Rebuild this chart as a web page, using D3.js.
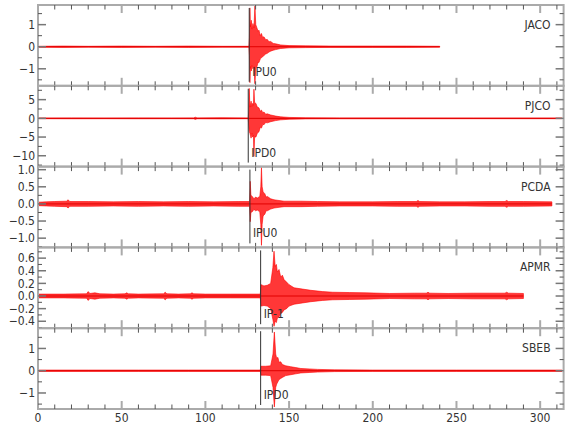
<!DOCTYPE html>
<html><head><meta charset="utf-8">
<script src="https://cdn.jsdelivr.net/npm/d3@7"></script>
<style>
html,body{margin:0;padding:0;background:#fff;}
text{font-family:"Liberation Sans Narrow","DejaVu Sans Condensed","Arial Narrow",sans-serif;}
</style></head>
<body><svg id="c" width="580" height="440"></svg>
<script>
// ---- data ----
const stationNames = ["JACO", "PJCO", "PCDA", "APMR", "SBEB"];
const pickTimes = [126.2, 125.6, 126.6, 133.0, 133.0];
const pickLabels = ["IPU0", "IPD0", "IPU0", "IP-1", "IPD0"];
const xTicksMajor = [0, 50, 100, 150, 200, 250, 300];
const yDomains = [[-1.77, 1.89], [-12.9, 8.7], [-1.27, 1.09], [-0.51, 0.77], [-1.72, 1.91]];
const yLabelTicks = [[-1, 0, 1], [-10, -5, 0, 5], [-1.0, -0.5, 0.0, 0.5, 1.0], [-0.4, -0.2, 0.0, 0.2, 0.4, 0.6], [-1, 0, 1]];
const yMinorStep = [0.5, 2.5, 0.25, 0.1, 0.5];

// envelopes (time s, upper, lower)
const jacoT  = [0, 15, 30, 50, 70, 90, 110, 126.0, 126.3, 126.6, 126.9, 127.4, 127.9, 128.4, 129.0, 129.6, 130.1, 130.8, 131.5, 132, 132.8, 133.5, 134.2, 135, 136, 137, 138, 139, 140.5, 142, 145, 150, 160, 175, 200, 220, 240];
const jacoHi = [0.02, 0.03, 0.02, 0.03, 0.02, 0.03, 0.02, 0.02, 0.4, 1.76, 0.9, 1.2, 0.8, 1.05, 0.85, 1.85, 1.0, 0.85, 0.7, 0.75, 0.5, 0.6, 0.42, 0.45, 0.32, 0.33, 0.22, 0.24, 0.15, 0.13, 0.08, 0.05, 0.04, 0.03, 0.03, 0.03, 0.02];
const jacoLo = [-0.02, -0.03, -0.02, -0.03, -0.02, -0.03, -0.02, -0.02, -0.4, -1.63, -0.9, -1.1, -0.85, -1.0, -0.9, -1.68, -1.0, -0.9, -0.7, -0.72, -0.55, -0.5, -0.45, -0.4, -0.33, -0.3, -0.24, -0.2, -0.16, -0.13, -0.08, -0.05, -0.04, -0.03, -0.03, -0.03, -0.02];

const pjcoT  = [0, 20, 40, 60, 80, 93, 94, 95, 110, 125.6, 125.9, 126.2, 126.6, 127.3, 127.8, 128.2, 128.7, 129.0, 129.4, 130.2, 131, 132, 132.8, 133.5, 134.3, 135, 136, 137, 139, 142, 145, 150, 160, 180, 220, 260, 313];
const pjcoHi = [0.1, 0.12, 0.1, 0.12, 0.1, 0.12, 0.3, 0.12, 0.15, 0.1, 2.0, 8.0, 3.0, 4.6, 3.2, 4.0, 3.5, 7.8, 4.2, 4.0, 3.0, 2.8, 1.9, 2.2, 1.5, 1.7, 1.1, 1.2, 0.9, 0.6, 0.4, 0.25, 0.15, 0.12, 0.12, 0.1, 0.1];
const pjcoLo = [-0.1, -0.12, -0.1, -0.12, -0.1, -0.12, -0.3, -0.12, -0.15, -0.1, -2.0, -3.5, -4.0, -5.3, -4.0, -5.0, -4.5, -10.2, -5.0, -5.0, -4.0, -3.6, -2.4, -2.6, -1.6, -1.7, -1.1, -1.2, -0.9, -0.6, -0.4, -0.25, -0.15, -0.12, -0.12, -0.1, -0.1];

const pcdaT  = [0, 5, 10, 17, 18, 19, 30, 45, 60, 75, 90, 105, 120, 126.4, 126.8, 127.2, 128, 129, 130, 131, 132.5, 133.1, 133.5, 133.9, 134.5, 135.5, 136.3, 137, 139, 141, 144, 147, 157, 167, 180, 200, 215, 226, 227, 228, 240, 255, 270, 279, 280, 281, 290, 307];
const pcdaHi = [0.05, 0.06, 0.07, 0.08, 0.12, 0.07, 0.07, 0.06, 0.07, 0.06, 0.07, 0.06, 0.07, 0.07, 0.66, 0.25, 0.22, 0.15, 0.2, 0.17, 0.22, 0.5, 1.06, 0.5, 0.35, 0.3, 0.2, 0.22, 0.15, 0.12, 0.1, 0.08, 0.08, 0.07, 0.06, 0.06, 0.07, 0.07, 0.1, 0.07, 0.06, 0.06, 0.07, 0.07, 0.1, 0.07, 0.07, 0.06];
const pcdaLo = [-0.05, -0.06, -0.07, -0.08, -0.12, -0.07, -0.07, -0.06, -0.07, -0.06, -0.07, -0.06, -0.07, -0.07, -0.52, -0.25, -0.23, -0.16, -0.2, -0.18, -0.23, -0.6, -1.21, -0.6, -0.35, -0.3, -0.2, -0.2, -0.15, -0.12, -0.1, -0.08, -0.08, -0.07, -0.06, -0.06, -0.07, -0.07, -0.1, -0.07, -0.06, -0.06, -0.07, -0.07, -0.1, -0.07, -0.07, -0.06];

const apmrT  = [0, 15, 29, 30, 31, 34, 37, 45, 52, 53, 54, 60, 75, 76, 77, 84, 91, 92, 93, 100, 115, 132.8, 133.2, 135, 137, 139, 140.3, 141.0, 141.7, 142.4, 143, 144, 145, 146, 147, 148.5, 150, 153, 158, 163, 170, 176, 186, 196, 210, 225, 232, 233, 234, 245, 260, 270, 279, 280, 281, 290];
const apmrHi = [0.03, 0.03, 0.035, 0.07, 0.04, 0.05, 0.035, 0.03, 0.035, 0.05, 0.035, 0.03, 0.035, 0.06, 0.035, 0.03, 0.035, 0.05, 0.035, 0.03, 0.03, 0.03, 0.18, 0.16, 0.17, 0.2, 0.45, 0.71, 0.47, 0.5, 0.38, 0.42, 0.3, 0.33, 0.26, 0.22, 0.18, 0.13, 0.11, 0.09, 0.07, 0.06, 0.055, 0.05, 0.04, 0.045, 0.045, 0.06, 0.045, 0.04, 0.045, 0.045, 0.045, 0.06, 0.045, 0.04];
const apmrLo = [-0.03, -0.03, -0.035, -0.07, -0.04, -0.05, -0.035, -0.03, -0.035, -0.05, -0.035, -0.03, -0.035, -0.06, -0.035, -0.03, -0.035, -0.05, -0.035, -0.03, -0.03, -0.03, -0.16, -0.15, -0.16, -0.2, -0.37, -0.48, -0.4, -0.42, -0.35, -0.33, -0.28, -0.26, -0.22, -0.2, -0.16, -0.13, -0.11, -0.09, -0.07, -0.06, -0.055, -0.05, -0.04, -0.045, -0.045, -0.06, -0.045, -0.04, -0.045, -0.045, -0.045, -0.06, -0.045, -0.04];

const sbebT  = [0, 30, 60, 90, 120, 132.8, 133.2, 136, 139, 140.4, 141.2, 142.0, 142.6, 143.3, 144, 145, 146, 148, 151, 154, 157, 162, 167, 177, 200, 250, 313];
const sbebHi = [0.03, 0.03, 0.03, 0.03, 0.03, 0.03, 0.2, 0.2, 0.22, 0.75, 1.74, 0.75, 0.55, 0.6, 0.38, 0.4, 0.28, 0.22, 0.18, 0.14, 0.1, 0.08, 0.06, 0.04, 0.03, 0.03, 0.03];
const sbebLo = [-0.03, -0.03, -0.03, -0.03, -0.03, -0.03, -0.2, -0.2, -0.22, -0.75, -1.63, -0.75, -0.6, -0.5, -0.4, -0.35, -0.3, -0.22, -0.18, -0.14, -0.1, -0.08, -0.06, -0.04, -0.03, -0.03, -0.03];

const traces = [
  [jacoT, jacoHi, jacoLo],
  [pjcoT, pjcoHi, pjcoLo],
  [pcdaT, pcdaHi, pcdaLo],
  [apmrT, apmrHi, apmrLo],
  [sbebT, sbebHi, sbebLo]
];

// ---- layout ----
const svg = d3.select("#c");
const left = 38, right = 563.6, top0 = 5, panelH = 80.8;
const x = d3.scaleLinear().domain([0, 314]).range([left, right]);
const frameCol = "#aaaaaa", tickDark = "#555", textCol = "#333";
const minorX = d3.range(0, 314, 10);

stationNames.forEach((name, i) => {
  const pt = top0 + i * panelH, pb = pt + panelH;
  const y = d3.scaleLinear().domain(yDomains[i]).range([pb, pt]);
  const g = svg.append("g");

  // trace envelope
  const [T, H, L] = traces[i];
  const pts = T.map((t, k) => ({t, h: H[k], l: L[k]}));
  const area = d3.area().x(d => x(d.t)).y0(d => y(d.l)).y1(d => y(d.h));
  g.append("path").datum(pts).attr("d", area)
    .attr("fill", "#ff1414").attr("fill-opacity", 0.85)
    .attr("stroke", "#ff0000").attr("stroke-width", 0.6).attr("stroke-linejoin", "round");
  // zero line core
  g.append("line").attr("x1", x(T[0])).attr("x2", x(T[T.length - 1])).attr("y1", y(0)).attr("y2", y(0))
    .attr("stroke", "#e00000").attr("stroke-width", 1);

  // pick line and label
  const px = x(pickTimes[i]);
  g.append("line").attr("x1", px).attr("x2", px).attr("y1", pt + 3).attr("y2", pb - 4)
    .attr("stroke", "#333").attr("stroke-width", 1);
  g.append("text").attr("x", px + 3).attr("y", pb - 10).attr("font-size", 12)
    .attr("fill", textCol).text(pickLabels[i]);

  // frame
  g.append("rect").attr("x", left).attr("y", pt).attr("width", right - left).attr("height", panelH)
    .attr("fill", "none").attr("stroke", frameCol).attr("stroke-width", 2);

  // x ticks top and bottom
  minorX.forEach(v => {
    const major = v % 50 === 0;
    const len = major ? 8 : 4.5;
    [[pt, 1], [pb, -1]].forEach(([yy, dir]) => {
      g.append("line").attr("x1", x(v)).attr("x2", x(v)).attr("y1", yy).attr("y2", yy + dir * len)
        .attr("stroke", major ? frameCol : tickDark).attr("stroke-width", major ? 2 : 1);
    });
  });

  // y ticks
  const [d0, d1] = yDomains[i];
  const step = yMinorStep[i];
  const minorY = d3.range(Math.ceil(d0 / step - 1e-9) * step, d1 + 1e-9, step).map(v => +v.toFixed(4));
  const labs = yLabelTicks[i];
  minorY.forEach(v => {
    const major = labs.some(l => Math.abs(l - v) < 1e-6);
    const len = major ? 8 : 4;
    const yy = y(v);
    g.append("line").attr("x1", left).attr("x2", left + len).attr("y1", yy).attr("y2", yy)
      .attr("stroke", major ? "#777" : tickDark).attr("stroke-width", major ? 1.5 : 1);
    g.append("line").attr("x1", right).attr("x2", right - len).attr("y1", yy).attr("y2", yy)
      .attr("stroke", major ? "#777" : tickDark).attr("stroke-width", major ? 1.5 : 1);
  });
  const fmt = (i === 2 || i === 3) ? d3.format(".1f") : d3.format("d");
  labs.forEach(v => {
    g.append("text").attr("x", left - 3).attr("y", y(v)).attr("dy", "0.35em")
      .attr("text-anchor", "end").attr("font-size", 12).attr("fill", textCol).text(fmt(v));
  });

  // station name
  g.append("text").attr("x", right - 13).attr("y", pt + 24).attr("text-anchor", "end")
    .attr("font-size", 12).attr("fill", textCol).text(name);
});

// bottom x labels
const bottom = top0 + 5 * panelH;
xTicksMajor.forEach(v => {
  svg.append("text").attr("x", x(v)).attr("y", bottom + 13).attr("text-anchor", "middle")
    .attr("font-size", 12).attr("fill", textCol).text(v);
});
</script></body></html>
